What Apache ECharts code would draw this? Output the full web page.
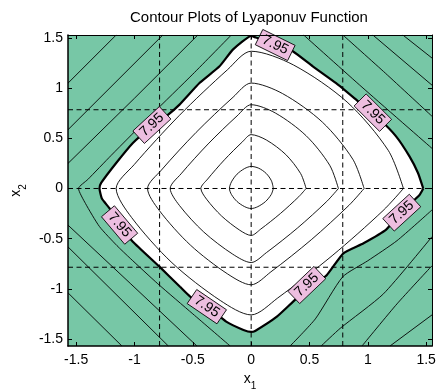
<!DOCTYPE html>
<html>
<head>
<meta charset="utf-8">
<script src="https://cdn.jsdelivr.net/npm/echarts@6/dist/echarts.min.js"></script>
<style>
  html, body { margin: 0; padding: 0; background: #fff; }
  #chart { width: 436px; height: 389px; }
</style>
</head>
<body>
<div id="chart"></div>
<script>
// axis ranges and ticks
const xRange = [-1.57, 1.55];
const yRange = [-1.57, 1.53];
const xTicks = [-1.5, -1, -0.5, 0, 0.5, 1, 1.5];
const yTicks = [-1.5, -1, -0.5, 0, 0.5, 1, 1.5];
const dashAt = [-0.785, 0, 0.785];

// the 7.95 level (region boundary)
const level795 = [
  [1.475, 0], [1.43, 0.155], [1.357, 0.32], [1.242, 0.52], [1.10, 0.69], [0.90, 0.885],
  [0.728, 1.05], [0.528, 1.218], [0.357, 1.368], [0.2, 1.45], [0.04, 1.505], [0, 1.52],
  [-0.157, 1.384], [-0.271, 1.218], [-0.443, 1.051], [-0.614, 0.836], [-0.729, 0.719],
  [-0.87, 0.6], [-1.014, 0.454], [-1.157, 0.254], [-1.286, 0.055], [-1.3, 0],
  [-1.28, -0.1], [-1.214, -0.198], [-1.129, -0.364], [-1.014, -0.53], [-0.786, -0.779],
  [-0.61, -0.98], [-0.523, -1.078], [-0.357, -1.194], [-0.214, -1.327], [-0.066, -1.41], [0, -1.43],
  [0.034, -1.42], [0.22, -1.278], [0.386, -1.1], [0.52, -0.98], [0.649, -0.862], [0.79, -0.646],
  [0.963, -0.546], [1.157, -0.41], [1.277, -0.247], [1.443, -0.065], [1.475, 0]
];

// inner levels
const c1 = [[0.19, 0], [0.174, 0.076], [0.129, 0.15], [0.065, 0.202], [0, 0.22], [-0.056, 0.199], [-0.121, 0.143], [-0.169, 0.066], [-0.186, 0], [-0.169, -0.06], [-0.121, -0.13], [-0.056, -0.181], [0, -0.2], [0.057, -0.181], [0.123, -0.13], [0.172, -0.06], [0.19, 0]];
const c2 = [[0.471, 0], [0.424, 0.149], [0.297, 0.338], [0.131, 0.483], [0, 0.537], [-0.075, 0.465], [-0.229, 0.286], [-0.373, 0.094], [-0.431, 0], [-0.382, -0.107], [-0.253, -0.275], [-0.099, -0.415], [0, -0.468], [0.082, -0.405], [0.251, -0.249], [0.408, -0.082], [0.471, 0]];
const c3 = [[0.748, 0], [0.673, 0.232], [0.471, 0.526], [0.208, 0.752], [0, 0.835], [-0.121, 0.723], [-0.369, 0.444], [-0.601, 0.146], [-0.694, 0], [-0.615, -0.169], [-0.407, -0.433], [-0.159, -0.654], [0, -0.738], [0.131, -0.639], [0.398, -0.393], [0.648, -0.129], [0.748, 0]];
const c4 = [[0.968, 0], [0.871, 0.292], [0.61, 0.662], [0.269, 0.946], [0, 1.051], [-0.155, 0.91], [-0.472, 0.559], [-0.769, 0.184], [-0.888, 0], [-0.787, -0.22], [-0.521, -0.564], [-0.203, -0.851], [0, -0.96], [0.169, -0.831], [0.515, -0.511], [0.838, -0.168], [0.968, 0]];
const c5 = [[1.305, 0], [1.175, 0.38], [0.822, 0.862], [0.363, 1.231], [0, 1.368], [-0.202, 1.185], [-0.616, 0.728], [-1.002, 0.239], [-1.157, 0], [-1.025, -0.289], [-0.679, -0.74], [-0.265, -1.116], [0, -1.26], [0.228, -1.091], [0.694, -0.67], [1.13, -0.221], [1.305, 0]];

// outer levels (green area)
const g1 = [[-0.17, 1.53], [-0.5, 1.14], [-0.85, 0.74], [-1.2, 0.33], [-1.4, 0.09], [-1.48, 0], [-1.42, -0.15], [-1.3, -0.38], [-1.15, -0.57], [-1.037, -0.696], [-0.8, -0.95], [-0.5, -1.25], [-0.18, -1.57]];
const g2a = [[-0.457, 1.53], [-1.0, 0.9], [-1.57, 0.25]];
const g2b = [[-1.57, -0.365], [-1.037, -0.945], [-0.465, -1.57]];
const g3a = [[-0.757, 1.53], [-1.57, 0.586]];
const g3b = [[-1.57, -0.582], [-0.71, -1.57]];
const g4a = [[-1.157, 1.53], [-1.57, 1.05]];
const g4b = [[-1.57, -1.04], [-1.108, -1.57]];
const k1 = [[0.45, 1.53], [0.95, 1.01], [1.55, 0.4]];
const k2 = [[0.786, 1.53], [1.15, 1.15], [1.55, 0.72]];
const k3 = [[1.043, 1.53], [1.55, 1.03]];
const k4 = [[1.3, 1.53], [1.55, 1.3]];
const h1 = [[0.334, -1.57], [0.55, -1.3], [0.785, -0.88], [1.0, -0.72], [1.25, -0.52], [1.55, -0.214]];
const h2 = [[0.6, -1.57], [0.763, -1.394], [1.134, -1.05], [1.55, -0.48]];
const h3 = [[0.95, -1.57], [1.25, -1.15], [1.55, -0.77]];
const h4 = [[1.19, -1.57], [1.55, -1.26]];

// where the "7.95" labels sit
const labelAt = [[0.206, 1.43], [1.043, 0.756], [-0.851, 0.633], [-1.128, -0.364], [-0.38, -1.178], [0.477, -0.962], [1.291, -0.241]];

const FONT = 'Liberation Sans, Arial, Helvetica, sans-serif';
const GREEN = '#77C7A6';
const PINK = '#EDBEE0';

const chart = echarts.init(document.getElementById('chart'));

function thinLine(data, smooth) {
  return {
    type: 'line', data: data, showSymbol: false, symbol: 'none', smooth: smooth || 0,
    lineStyle: { color: '#000', width: 0.9 }, z: 3, silent: true, clip: true
  };
}

const dashLines = [];
dashAt.forEach(v => {
  dashLines.push([[v, yRange[0]], [v, yRange[1]]]);
  dashLines.push([[xRange[0], v], [xRange[1], v]]);
});

function labelItem(params, api) {
  const c = api.coord([api.value(0), api.value(1)]);
  const pts = level795.map(p => api.coord(p));
  let best = 0, bd = Infinity;
  pts.forEach((p, i) => {
    const d = (p[0] - c[0]) ** 2 + (p[1] - c[1]) ** 2;
    if (d < bd) { bd = d; best = i; }
  });
  const a = pts[Math.max(best - 2, 0)];
  const b = pts[Math.min(best + 2, pts.length - 1)];
  let ang = Math.atan2(-(b[1] - a[1]), b[0] - a[0]);
  if (ang > Math.PI / 2) ang -= Math.PI;
  if (ang < -Math.PI / 2) ang += Math.PI;
  return {
    type: 'group', x: c[0], y: c[1], rotation: ang,
    children: [
      { type: 'rect', shape: { x: -18, y: -8.5, width: 36, height: 17 }, style: { fill: PINK, stroke: '#000', lineWidth: 0.8 } },
      { type: 'text', style: { text: '7.95', x: 0, y: 0, align: 'center', verticalAlign: 'middle', fontSize: 14, fontFamily: FONT, fill: '#000' } }
    ]
  };
}

const series = [
  {
    type: 'custom', z: 1, silent: true, data: [[0, 0]],
    renderItem: (params, api) => ({
      type: 'polygon',
      shape: { points: level795.map(p => api.coord(p)) },
      style: { fill: '#fff' }
    })
  },
  thinLine(c1, 0.3), thinLine(c2, 0.3), thinLine(c3, 0.3), thinLine(c4, 0.3), thinLine(c5, 0.3),
  thinLine(g1, 0.2), thinLine(g2a), thinLine(g2b), thinLine(g3a), thinLine(g3b), thinLine(g4a), thinLine(g4b),
  thinLine(k1, 0.2), thinLine(k2, 0.2), thinLine(k3), thinLine(k4),
  thinLine(h1, 0.2), thinLine(h2, 0.2), thinLine(h3, 0.2), thinLine(h4),
  {
    type: 'line', data: level795, showSymbol: false, symbol: 'none', smooth: 0.15,
    lineStyle: { color: '#000', width: 2.2 }, z: 4, silent: true
  }
];
dashLines.forEach(d => series.push({
  type: 'line', data: d, showSymbol: false, symbol: 'none', silent: true, z: 5,
  lineStyle: { color: '#000', width: 1, type: [5, 3.5] }
}));
series.push({ type: 'custom', z: 6, silent: true, data: labelAt, renderItem: labelItem });

function xAxisOf(pos, main) {
  return {
    type: 'value', position: pos, min: xRange[0], max: xRange[1], z: 10,
    axisLine: { onZero: false, lineStyle: { color: '#000', width: main ? 1.5 : 1 } },
    axisTick: { inside: true, length: 4, customValues: xTicks, lineStyle: { color: '#000' } },
    axisLabel: { show: main, customValues: xTicks, color: '#000', fontSize: 14, fontFamily: FONT, margin: 7 },
    splitLine: { show: false },
    name: main ? '{v|x}{s|1}' : '', nameLocation: 'middle', nameGap: 26,
    nameTextStyle: {
      rich: {
        v: { fontSize: 14, fontFamily: FONT, color: '#000', lineHeight: 16, verticalAlign: 'top' },
        s: { fontSize: 10, fontFamily: FONT, color: '#000', lineHeight: 10, padding: [9, 0, 0, 0], verticalAlign: 'top' }
      }
    }
  };
}
function yAxisOf(pos, main) {
  return {
    type: 'value', position: pos, min: yRange[0], max: yRange[1], z: 10,
    axisLine: { onZero: false, lineStyle: { color: '#000', width: main ? 1.5 : 1 } },
    axisTick: { inside: true, length: 4, customValues: yTicks, lineStyle: { color: '#000' } },
    axisLabel: { show: main, customValues: yTicks, color: '#000', fontSize: 14, fontFamily: FONT, margin: 5 },
    splitLine: { show: false },
    name: main ? '{v|x}{s|2}' : '', nameLocation: 'middle', nameGap: 42, nameRotate: 90,
    nameTextStyle: {
      rich: {
        v: { fontSize: 14, fontFamily: FONT, color: '#000', lineHeight: 16, verticalAlign: 'top' },
        s: { fontSize: 10, fontFamily: FONT, color: '#000', lineHeight: 10, padding: [9, 0, 0, 0], verticalAlign: 'top' }
      }
    }
  };
}

chart.setOption({
  animation: false,
  backgroundColor: '#fff',
  title: {
    text: 'Contour Plots of Lyaponuv Function',
    left: 249, top: 10, textAlign: 'center', padding: 0,
    textStyle: { fontSize: 15, fontWeight: 'normal', color: '#000', fontFamily: FONT }
  },
  grid: {
    left: 68, right: 4, top: 35, bottom: 43,
    outerBoundsMode: 'none', containLabel: false,
    show: true, backgroundColor: GREEN, borderWidth: 0
  },
  xAxis: [xAxisOf('bottom', true), xAxisOf('top', false)],
  yAxis: [yAxisOf('left', true), yAxisOf('right', false)],
  series: series
});
</script>
</body>
</html>
